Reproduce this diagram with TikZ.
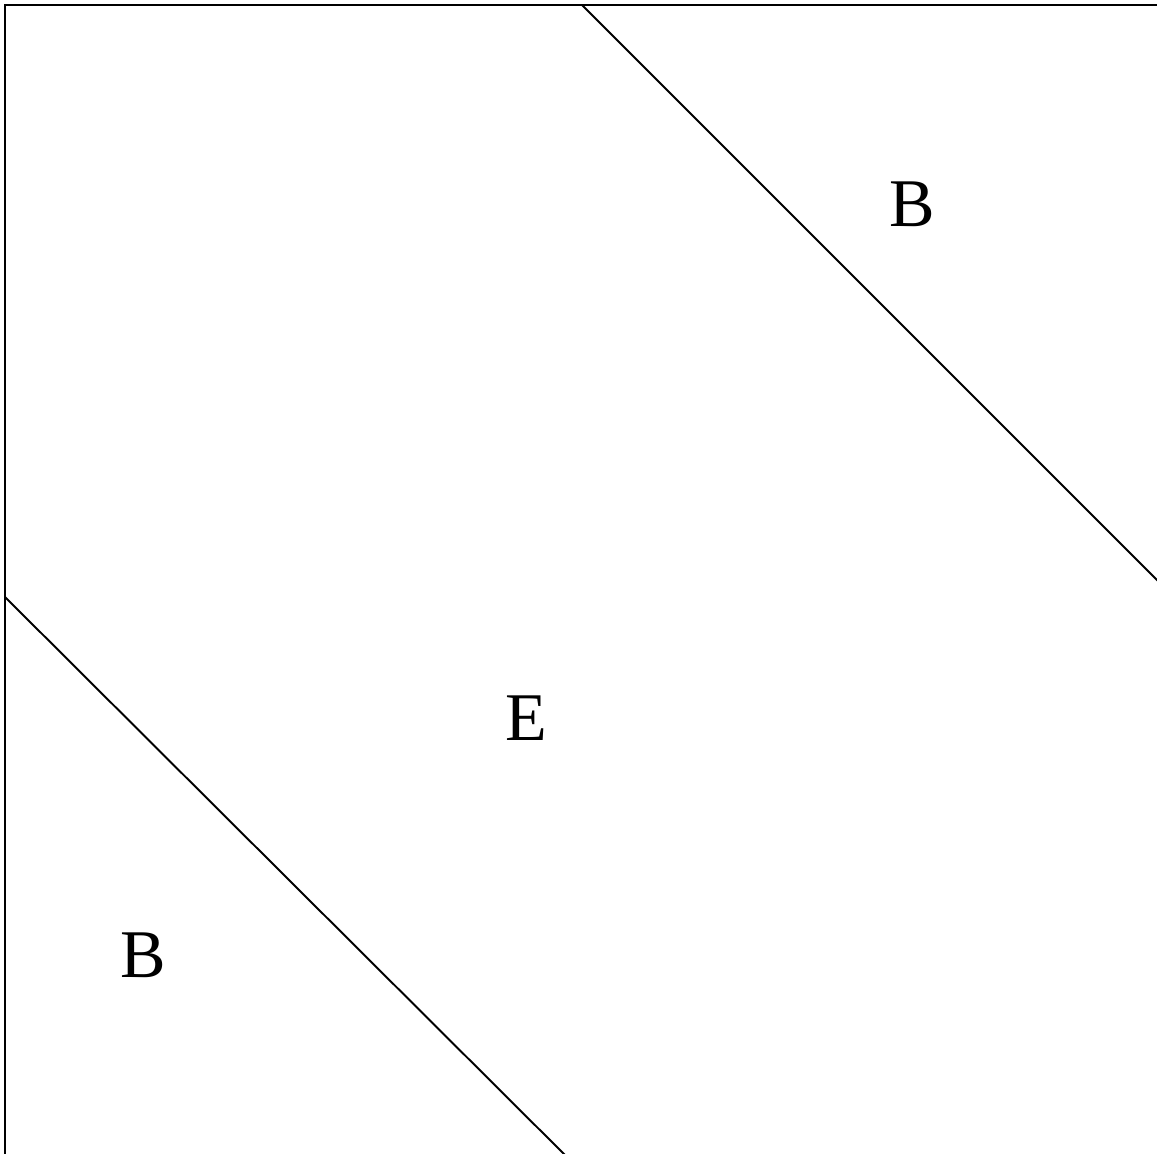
\documentclass[tikz,border=0pt]{standalone}
\usepackage{fontspec}
\setmainfont{Liberation Serif}
\usetikzlibrary{calc}

\begin{document}
\begin{tikzpicture}[x=.01cm,y=-.01cm,line width=.55pt,lab/.style={font=\fontsize{19.4}{23}\selectfont}]
\useasboundingbox(0,0)rectangle(1157,1154);\clip(0,0)rectangle(1157,1154);
\draw(5,5)rectangle(1157.6,1160);
\draw(582,5)--(1160,583);\draw(5,597)--(570,1160);
\node[lab](bt)at(912,204){B};\node[lab](e)at(526,718){E};\node[lab](bb)at(143,955){B};
\end{tikzpicture}
\end{document}
